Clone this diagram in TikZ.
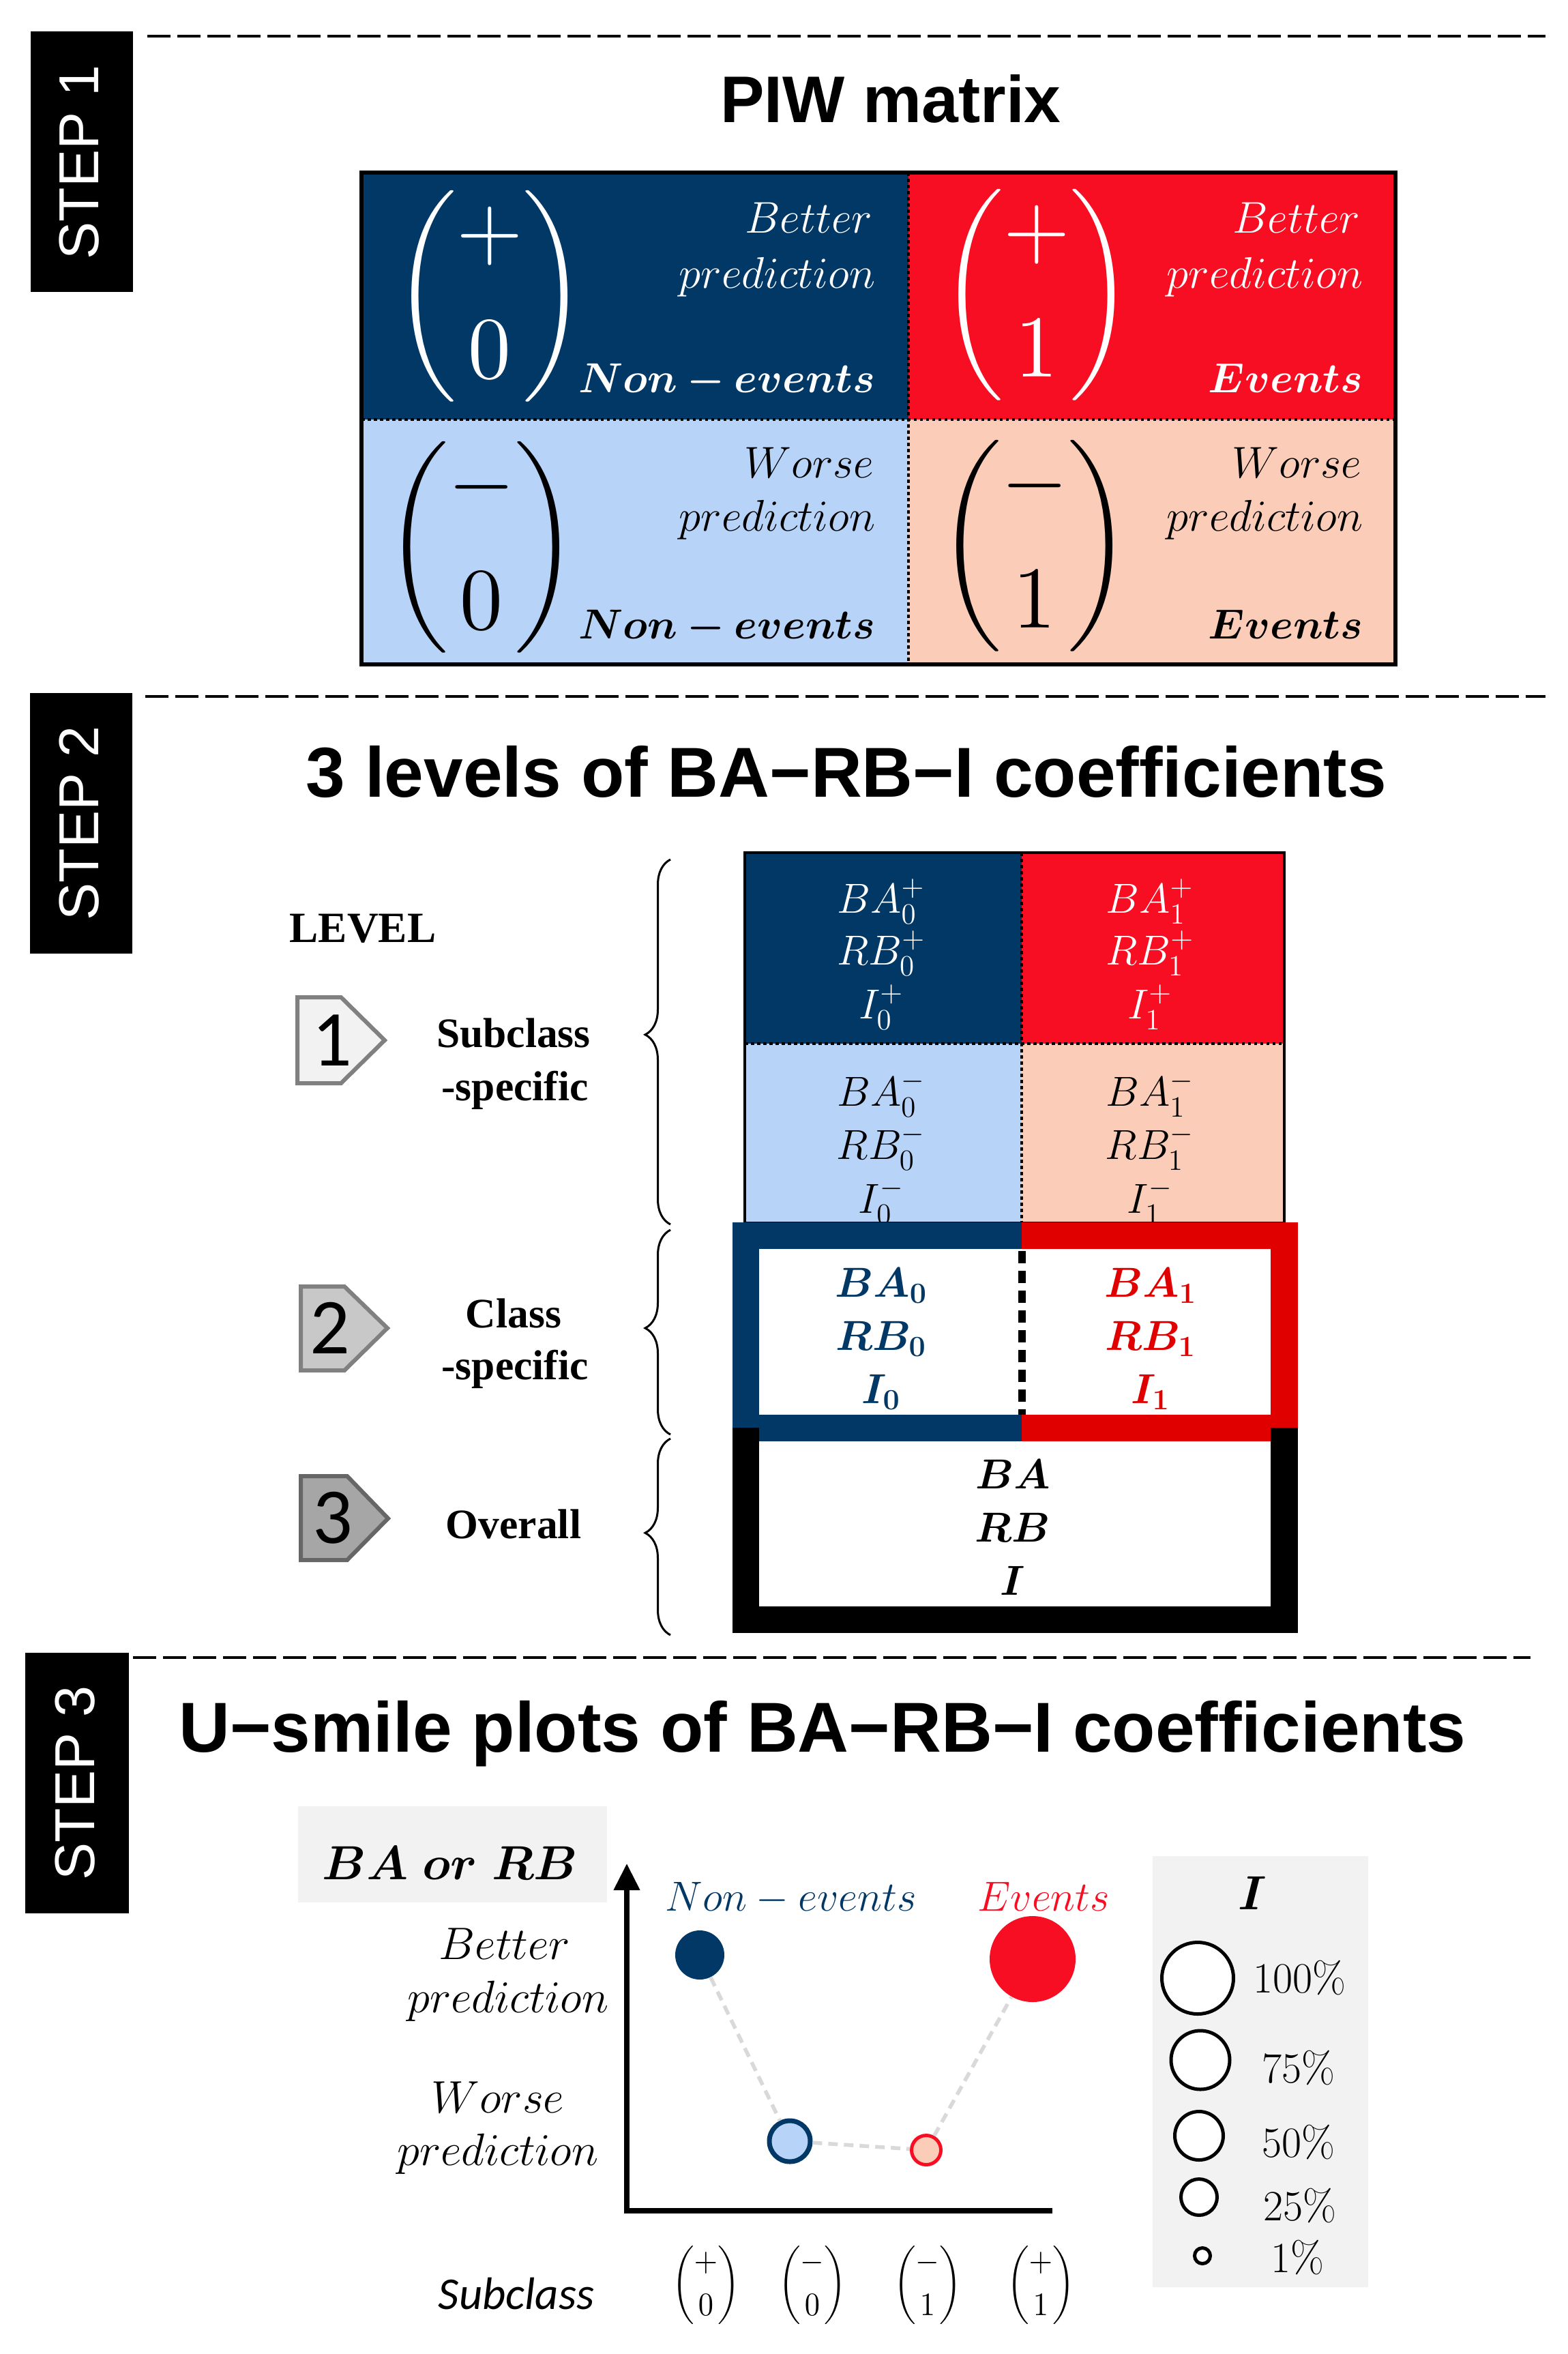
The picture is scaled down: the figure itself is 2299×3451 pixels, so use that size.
\RequirePackage{fix-cm}
\documentclass[tikz,border=0pt]{standalone}
\usepackage{amsmath}
\usepackage{bm}
\usepackage{graphicx}
\usepackage{fontspec}
\newfontfamily\arialf{Liberation Sans}
\newfontfamily\timesf{Liberation Serif}
\newfontfamily\calf{Carlito}
\usetikzlibrary{arrows.meta,decorations.pathreplacing}
\newcommand{\fsz}[1]{\fontsize{#1}{#1}\selectfont}
\definecolor{navy}{RGB}{2,56,102}
\definecolor{brightred}{RGB}{248,14,34}
\definecolor{lblue}{RGB}{183,211,248}
\definecolor{peach}{RGB}{251,205,184}
\definecolor{classred}{RGB}{224,0,0}
\definecolor{bggray}{RGB}{242,242,242}
\definecolor{conngray}{RGB}{217,217,217}
\definecolor{ga1}{RGB}{242,242,242}
\definecolor{ga2}{RGB}{200,200,200}
\definecolor{ga3}{RGB}{166,166,166}
\definecolor{gb1}{RGB}{128,128,128}
\definecolor{gb3}{RGB}{102,102,102}
\tikzset{
 stepbox/.style={fill=black, inner sep=0, minimum width=15mm, minimum height=38.2mm},
 steptext/.style={text=white, rotate=90, inner sep=0, font=\arialf\fsz{23.5}},
 sepline/.style={line width=0.35mm, dash pattern=on 3.4mm off 1mm},
 titletext/.style={anchor=base, inner sep=0, font=\arialf\bfseries\fsz{29.5}},
 celltext/.style={anchor=base east, inner sep=0, font=\fsz{18.5}},
 dotsep/.style={line width=0.45mm, dash pattern=on 0.45mm off 0.45mm},
 coef/.style={anchor=base, inner sep=0, font=\fsz{17.5}},
 levelarrow/.style={line width=0.6mm, line join=miter},
 levelnum/.style={inner sep=0, font=\calf\fsz{33}},
 leveltext/.style={anchor=base, inner sep=0, font=\timesf\bfseries\fsz{17.5}},
 bracestyle/.style={decorate, decoration={brace, amplitude=3.7mm, aspect=0.52}, line width=0.3mm},
 plotlabel/.style={anchor=base, inner sep=0, font=\fsz{17.5}},
 conn/.style={conngray, line width=0.55mm, dash pattern=on 1.4mm off 0.9mm},
 legcircle/.style={circle, draw=black, fill=white, line width=0.5mm, inner sep=0},
 legtext/.style={anchor=base west, inner sep=0, font=\fsz{18}},
 binomnode/.style={inner sep=0},
}
\begin{document}
\begin{tikzpicture}[x=0.1mm,y=-0.1mm]
\useasboundingbox (0,0) rectangle (2299,3451);
\fill[white] (0,0) rectangle (2299,3451);

% ---------------- STEP boxes and separators
\node[stepbox] (step1) at (119.5,237) {};
\node[steptext] (step1t) at (116,238) {STEP 1};
\node[stepbox] (step2) at (119,1206.5) {};
\node[steptext] (step2t) at (116,1207) {STEP 2};
\node[stepbox, minimum width=15.2mm] (step3) at (113,2613.5) {};
\node[steptext] (step3t) at (110,2614) {STEP 3};
\draw[sepline] (216,53) -- (2266,53);
\draw[sepline] (213,1021) -- (2266,1021);
\draw[sepline] (195,2430) -- (2244,2430);

% ---------------- titles
\node[titletext, font=\arialf\bfseries\fsz{27.5}] (t1) at (1306,179) {PIW matrix};
\node[titletext] (t2) at (1241,1168) {3 levels of BA−RB−I coefficients};
\node[titletext] (t3) at (1206,2568) {U−smile plots of BA−RB−I coefficients};

% ---------------- STEP 1: PIW matrix
\fill[navy] (530,253) rectangle (1332,615);
\fill[brightred] (1332,253) rectangle (2046,615);
\fill[lblue] (530,615) rectangle (1332,974);
\fill[peach] (1332,615) rectangle (2046,974);
\draw[dotsep] (530,615) -- (2046,615);
\draw[dotsep] (1332,253) -- (1332,974);
\draw[line width=0.6mm] (530,253) rectangle (2046,974);

\node[binomnode, text=white] (bpz) at (718,434) {\resizebox*{28.2mm}{31mm}{$\dbinom{+}{0}$}};
\node[binomnode, text=white] (bpo) at (1520,432) {\resizebox*{28.2mm}{31mm}{$\dbinom{+}{1}$}};
\node[binomnode] (bmz) at (706,802) {\resizebox*{28.2mm}{31mm}{$\dbinom{-}{0}$}};
\node[binomnode] (bmo) at (1517,800) {\resizebox*{28.2mm}{31mm}{$\dbinom{-}{1}$}};

\node[celltext, text=white] (c1a) at (1280,341) {$Better$};
\node[celltext, text=white] (c1b) at (1284,422) {$prediction$};
\node[celltext, text=white, font=\fsz{17.5}] (c1c) at (1284,575) {$\bm{Non-events}$};
\node[celltext, text=white] (c2a) at (1995,341) {$Better$};
\node[celltext, text=white] (c2b) at (1999,422) {$prediction$};
\node[celltext, text=white, font=\fsz{17.5}] (c2c) at (1999,575) {$\bm{Events}$};
\node[celltext] (c3a) at (1282,700) {$Worse$};
\node[celltext] (c3b) at (1284,778) {$prediction$};
\node[celltext, font=\fsz{17.5}] (c3c) at (1284,936) {$\bm{Non-events}$};
\node[celltext] (c4a) at (1997,700) {$Worse$};
\node[celltext] (c4b) at (1999,778) {$prediction$};
\node[celltext, font=\fsz{17.5}] (c4c) at (1999,936) {$\bm{Events}$};

% ---------------- STEP 2: levels
\node[leveltext, font=\timesf\bfseries\fsz{18}] (lev) at (532,1381) {LEVEL};

\draw[levelarrow, fill=ga1, draw=gb1] (436,1462) -- (500,1462) -- (564,1525) -- (500,1588) -- (436,1588) -- cycle;
\node[levelnum] (n1) at (487,1525) {1};
\draw[levelarrow, fill=ga2, draw=gb1] (441,1886) -- (505,1886) -- (568,1947) -- (505,2009) -- (441,2009) -- cycle;
\node[levelnum] (n2) at (484,1947) {2};
\draw[levelarrow, fill=ga3, draw=gb3] (441,2164) -- (509,2164) -- (569,2226) -- (509,2287) -- (441,2287) -- cycle;
\node[levelnum] (n3) at (488,2225) {3};

\node[leveltext] (l1a) at (753,1535) {Subclass};
\node[leveltext] (l1b) at (755,1613) {-specific};
\node[leveltext] (l2a) at (753,1946) {Class};
\node[leveltext] (l2b) at (755,2022) {-specific};
\node[leveltext] (l3a) at (753,2255) {Overall};

\draw[bracestyle] (983,1795) -- (983,1260);
\draw[bracestyle] (983,2103) -- (983,1803);
\draw[bracestyle] (983,2397) -- (983,2109);

% subclass-specific table
\fill[navy] (1092,1250) rectangle (1498,1530);
\fill[brightred] (1498,1250) rectangle (1883,1530);
\fill[lblue] (1092,1530) rectangle (1498,1793);
\fill[peach] (1498,1530) rectangle (1883,1793);
\draw[dotsep] (1092,1530) -- (1883,1530);
\draw[dotsep] (1498,1250) -- (1498,1793);
\draw[line width=0.4mm] (1092,1250) rectangle (1883,1793);

\node[coef, text=white] (s1) at (1292,1338) {$BA_0^+$};
\node[coef, text=white] (s2) at (1292,1414) {$RB_0^+$};
\node[coef, text=white] (s3) at (1292,1493) {$I_0^+$};
\node[coef, text=white] (s4) at (1686,1338) {$BA_1^+$};
\node[coef, text=white] (s5) at (1686,1414) {$RB_1^+$};
\node[coef, text=white] (s6) at (1686,1493) {$I_1^+$};
\node[coef] (s7) at (1292,1621) {$BA_0^-$};
\node[coef] (s8) at (1292,1699) {$RB_0^-$};
\node[coef] (s9) at (1292,1778) {$I_0^-$};
\node[coef] (s10) at (1686,1621) {$BA_1^-$};
\node[coef] (s11) at (1686,1699) {$RB_1^-$};
\node[coef] (s12) at (1686,1778) {$I_1^-$};

% overall frame (black)
\fill[black] (1074,2093) rectangle (1903,2394);
\fill[white] (1113,2093) rectangle (1863,2355);
% class-specific frame
\fill[navy] (1074,1792) rectangle (1498,2093);
\fill[classred] (1498,1792) rectangle (1903,2093);
\fill[navy] (1113,2074) rectangle (1498,2113);
\fill[classred] (1498,2074) rectangle (1863,2113);
\fill[white] (1113,1831) rectangle (1863,2074);
\draw[line width=1.1mm, dash pattern=on 1.8mm off 1.1mm] (1498,1834) -- (1498,2074);

\node[coef, text=navy] (k1) at (1292,1901) {$\bm{BA_0}$};
\node[coef, text=navy] (k2) at (1292,1979) {$\bm{RB_0}$};
\node[coef, text=navy] (k3) at (1292,2057) {$\bm{I_0}$};
\node[coef, text=classred] (k4) at (1687,1901) {$\bm{BA_1}$};
\node[coef, text=classred] (k5) at (1687,1979) {$\bm{RB_1}$};
\node[coef, text=classred] (k6) at (1687,2057) {$\bm{I_1}$};

\node[coef] (o1) at (1485,2182) {$\bm{BA}$};
\node[coef] (o2) at (1485,2260) {$\bm{RB}$};
\node[coef] (o3) at (1485,2338) {$\bm{I}$};

% ---------------- STEP 3: U-smile plot
\fill[bggray] (437,2648) rectangle (890,2789);
\node[plotlabel, font=\fsz{20}] (ylab) at (660,2755) {$\bm{BA\ or\ RB}$};

\coordinate (ax0) at (919,3241);
\coordinate (axtop) at (919,2732);
\coordinate (axend) at (1543,3241);
\draw[line width=0.75mm, line join=miter, -{Triangle[length=3.9mm,width=3.7mm]}] (axend) -- (ax0) -- (axtop);

\node[plotlabel, font=\fsz{19}] (bt1) at (740,2872) {$Better$};
\node[plotlabel, font=\fsz{19}] (bt2) at (745,2950) {$prediction$};
\node[plotlabel, font=\fsz{19}] (wt1) at (730,3097) {$Worse$};
\node[plotlabel, font=\fsz{19}] (wt2) at (730,3174) {$prediction$};

\node[plotlabel, anchor=base west, text=navy] (ne) at (975,2801) {$Non-events$};
\node[plotlabel, anchor=base west, text=brightred] (ev) at (1433,2801) {$Events$};

\node[circle, fill=navy, inner sep=0, minimum size=7.2mm] (p1) at (1026,2866) {};
\node[circle, fill=lblue, draw=navy, line width=0.7mm, inner sep=0, minimum size=6mm] (p2) at (1158,3139) {};
\node[circle, fill=peach, draw=brightred, line width=0.5mm, inner sep=0, minimum size=4.3mm] (p3) at (1358,3152) {};
\node[circle, fill=brightred, inner sep=0, minimum size=12.6mm] (p4) at (1514,2872) {};
\draw[conn] (p1) -- (p2);
\draw[conn] (p2) -- (p3);
\draw[conn] (p3) -- (p4);

\node[plotlabel, font=\calf\itshape\fsz{19}] (subc) at (757,3385) {Subclass};
\node[binomnode] (x1) at (1035,3350) {\resizebox*{10mm}{11.5mm}{$\dbinom{+}{0}$}};
\node[binomnode] (x2) at (1191,3350) {\resizebox*{10mm}{11.5mm}{$\dbinom{-}{0}$}};
\node[binomnode] (x3) at (1360,3350) {\resizebox*{10mm}{11.5mm}{$\dbinom{-}{1}$}};
\node[binomnode] (x4) at (1526,3350) {\resizebox*{10mm}{11.5mm}{$\dbinom{+}{1}$}};

% legend
\fill[bggray] (1690,2721) rectangle (2006,3353);
\node[plotlabel, font=\fsz{20}] (ih) at (1836,2799) {$\bm{I}$};
\node[legcircle, minimum size=10.5mm] (g1) at (1756,2900) {};
\node[legcircle, minimum size=8.6mm] (g2) at (1760,3020) {};
\node[legcircle, minimum size=7.1mm] (g3) at (1758,3131) {};
\node[legcircle, minimum size=5.3mm] (g4) at (1758,3221) {};
\node[legcircle, minimum size=2.3mm] (g5) at (1763,3307) {};
\node[legtext] (gt1) at (1837,2921) {100\%};
\node[legtext] (gt2) at (1850,3053) {75\%};
\node[legtext] (gt3) at (1850,3162) {50\%};
\node[legtext] (gt4) at (1852,3255) {25\%};
\node[legtext] (gt5) at (1863,3331) {1\%};
\end{tikzpicture}
\end{document}
